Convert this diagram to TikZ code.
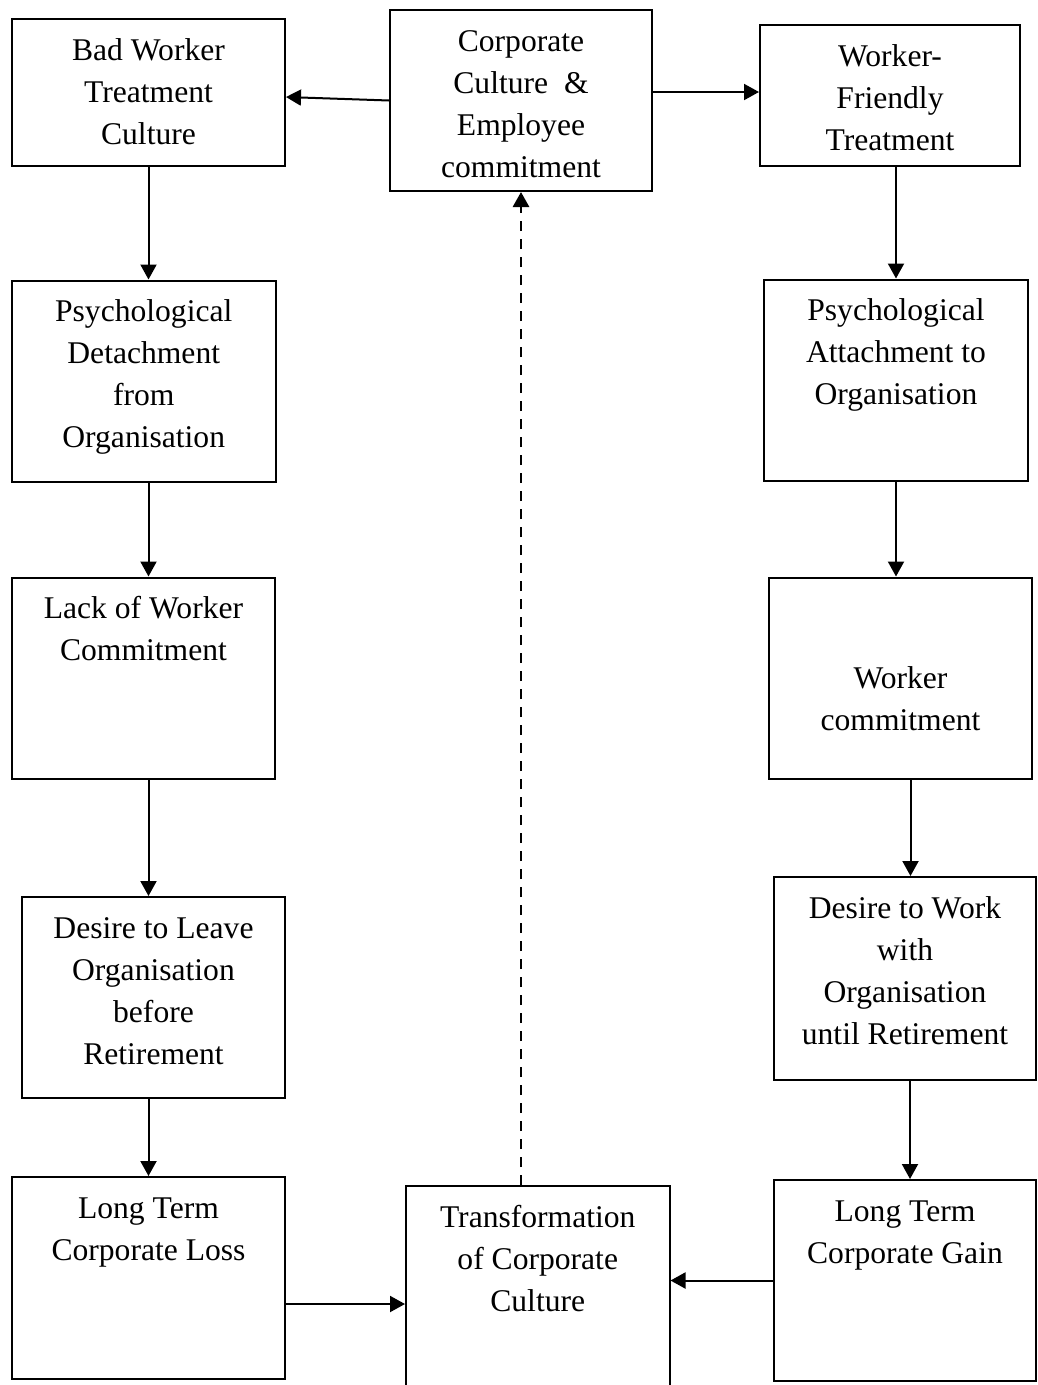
\documentclass[tikz,border=0pt]{standalone}
\usepackage{fontspec}
\setmainfont{Liberation Serif}
\usetikzlibrary{arrows.meta}
\newcommand{\boxtxt}[4][0pt]{%
  \parbox[c][#3][t]{#2}{\centering\vspace*{\dimexpr 11.6pt+#1\relax}\strut #4}}

\begin{document}
\begin{tikzpicture}[
        x=1pt, y=-1pt,
        line width=2pt,
        font=\fontsize{31.6}{42}\selectfont
    ]
    \tikzset{
        mybox/.style = {draw=black, inner sep=0pt},
        myarrow/.style = {-{Triangle[length=15pt,width=16pt]}},
        mydash/.style = {myarrow, line width=2.8pt, dash pattern=on 10pt off 8pt},
    }
        \useasboundingbox (0,0) rectangle (1037,1385);
        % left column
        \node[mybox] at (148.5,92.5) (bad) {\boxtxt{273pt}{147pt}{Bad Worker\\Treatment\\Culture}};
        \node[mybox] at (143.75,381.25) (pd) {\boxtxt{263.5pt}{201.5pt}{Psychological\\Detachment\\from\\Organisation}};
        \node[mybox] at (143.5,678.25) (lack) {\boxtxt{263pt}{201.5pt}{Lack of Worker\\Commitment}};
        \node[mybox] at (153.5,997.5) (dl) {\boxtxt{263pt}{201pt}{Desire to Leave\\Organisation\\before\\Retirement}};
        \node[mybox] at (148.5,1278) (loss) {\boxtxt{273pt}{202pt}{Long Term\\Corporate Loss}};
        % middle
        \node[mybox] at (521,100.5) (corp) {\boxtxt{262pt}{181pt}{Corporate\\Culture~~\&\\Employee\\commitment}};
        \node[mybox] at (537.75,1287) (trans) {\boxtxt{263.5pt}{202pt}{Transformation\\of Corporate\\Culture}};
        % right column
        \node[mybox] at (890,95.5) (wf) {\boxtxt{260pt}{141pt}{Worker-\\Friendly\\Treatment}};
        \node[mybox] at (896,380.25) (pa) {\boxtxt{264pt}{201.5pt}{Psychological\\Attachment to\\Organisation}};
        \node[mybox] at (900.5,678.25) (wc) {\boxtxt[70pt]{263pt}{201.5pt}{Worker\\commitment}};
        \node[mybox] at (905,978.5) (dw) {\boxtxt{262pt}{203pt}{Desire to Work\\with\\Organisation\\until Retirement}};
        \node[mybox] at (905,1280.5) (gain) {\boxtxt{262pt}{201pt}{Long Term\\Corporate Gain}};
        %
        \draw[myarrow] (corp.west) -- ([yshift=-4.5pt]bad.east);
        \draw[myarrow] ([yshift=8.5pt]corp.east) -- ([yshift=8.5pt]corp.east -| wf.west);
        %
        \draw[myarrow] (bad.south) -- (bad.south |- pd.north);
        \draw[myarrow] (pd.south -| bad) -- (lack.north -| bad);
        \draw[myarrow] (lack.south -| bad) -- (dl.north -| bad);
        \draw[myarrow] (dl.south -| loss) -- (loss.north);
        %
        \draw[myarrow] (wf.south -| pa) -- (pa.north);
        \draw[myarrow] (pa.south) -- (pa.south |- wc.north);
        \draw[myarrow] ([xshift=10pt]wc.south) -- ([xshift=10pt]wc.south |- dw.north);
        \draw[myarrow] ([xshift=5pt]dw.south) -- ([xshift=5pt]dw.south |- gain.north);
        %
        \draw[myarrow] ([yshift=-26pt]loss.east) -- ([yshift=-26pt]loss.east -| trans.west);
        \draw[myarrow] (gain.west) -- (gain.west -| trans.east);
        \draw[mydash] (corp |- trans.north) -- (corp.south);
    \end{tikzpicture}
\end{document}
